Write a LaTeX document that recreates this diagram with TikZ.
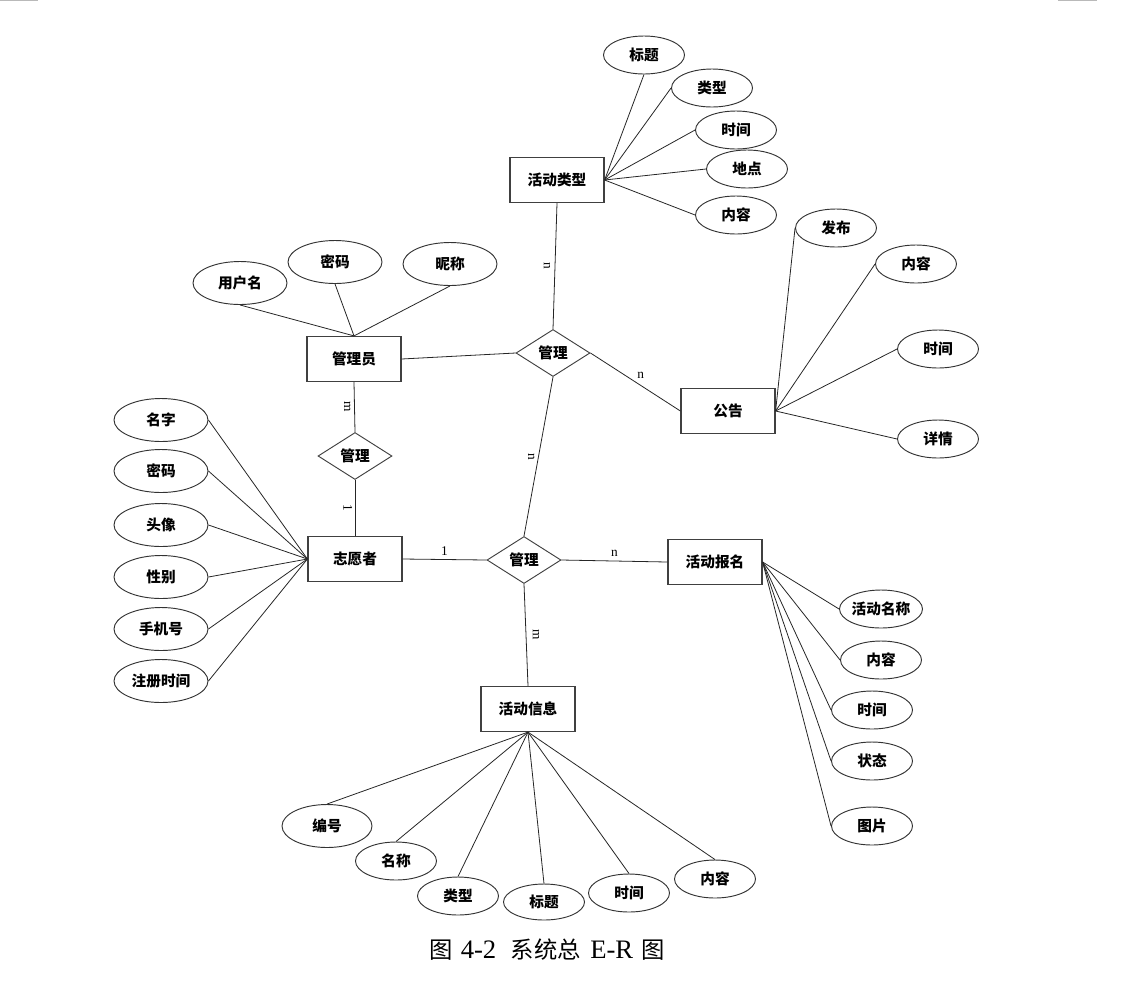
\documentclass[tikz,border=0pt]{standalone}
\usepackage{fontspec}
\setmainfont{Liberation Serif}
\newfontfamily\cjk{Noto Sans CJK SC}
\usetikzlibrary{shapes.geometric}

\begin{document}
\begin{tikzpicture}[x=0.75pt, y=-0.75pt,
      entity/.style={rectangle, draw=black!75, line width=0.9pt,
          minimum width=70.5pt, minimum height=33.75pt, inner sep=0pt,
          font=\cjk\bfseries\fontsize{11}{13}\selectfont},
      rel/.style={diamond, draw=black!75, line width=0.7pt,
          minimum width=55.5pt, minimum height=35.25pt, inner sep=0pt,
          font=\cjk\bfseries\fontsize{11}{13}\selectfont},
      attr/.style={ellipse, draw=black!80, line width=0.7pt,
          minimum width=60.75pt, minimum height=28.5pt, inner sep=0pt,
          font=\cjk\bfseries\fontsize{11}{13}\selectfont},
      wattr/.style={attr, minimum width=70.5pt, minimum height=32.25pt},
      link/.style={draw=black!85, line width=0.6pt},
      card/.style={font=\fontsize{10}{11}\selectfont, inner sep=0pt}]
    \useasboundingbox (0,0) rectangle (1123,986);
    \draw[gray!55, line width=1.5pt] (0,0) -- (38,0) (1058,0) -- (1097,0);

    % entities
    \node[entity] (tp)   at (557,180) {活动类型};
    \node[entity] (adm)  at (354,359) {管理员};
    \node[entity] (ann)  at (728,411) {公告};
    \node[entity] (vol)  at (355,559) {志愿者};
    \node[entity] (reg)  at (715,562) {活动报名};
    \node[entity] (info) at (528,709) {活动信息};

    % relations
    \node[rel] (mg1) at (553,353) {管理};
    \node[rel] (mg2) at (355,456) {管理};
    \node[rel] (mg3) at (524,560) {管理};

    % attributes
    \node[attr] (tp1) at (644,55)  {标题};
    \node[attr] (tp2) at (712,88)  {类型};
    \node[attr] (tp3) at (736,130) {时间};
    \node[attr] (tp4) at (747,169) {地点};
    \node[attr] (tp5) at (736,215) {内容};

    \node[wattr] (adm1) at (240,283) {用户名};
    \node[wattr] (adm2) at (335,262) {密码};
    \node[wattr] (adm3) at (450,264) {昵称};

    \node[attr] (ann1) at (836,228) {发布};
    \node[attr] (ann2) at (916,264) {内容};
    \node[attr] (ann3) at (938,349) {时间};
    \node[attr] (ann4) at (938,439) {详情};

    \node[wattr] (vol1) at (161,420) {名字};
    \node[wattr] (vol2) at (161,471) {密码};
    \node[wattr] (vol3) at (161,525) {头像};
    \node[wattr] (vol4) at (161,577) {性别};
    \node[wattr] (vol5) at (161,629) {手机号};
    \node[wattr] (vol6) at (161,681) {注册时间};

    \node[attr] (reg1) at (881,609) {活动名称};
    \node[attr] (reg2) at (881,660) {内容};
    \node[attr] (reg3) at (872,710) {时间};
    \node[attr] (reg4) at (872,761) {状态};
    \node[attr] (reg5) at (872,826) {图片};

    \node[wattr, minimum width=67.5pt] (info1) at (327,826) {编号};
    \node[attr] (info2) at (396,861) {名称};
    \node[attr] (info3) at (458,896) {类型};
    \node[attr, minimum height=27pt] (info4) at (544,902) {标题};
    \node[attr] (info5) at (629,893) {时间};
    \node[attr] (info6) at (715,879) {内容};

    % relation lines
    \draw[link] (adm.east) -- (mg1.west);
    \draw[link] (tp.south) -- (mg1.north)
        node[card, pos=.5, xshift=-6pt, rotate=-90] {n};
    \draw[link] (mg1.east) -- (ann.west)
        node[card, pos=.5, xshift=4pt, yshift=5pt] {n};
    \draw[link] (mg1.south) -- (mg3.north)
        node[card, pos=.5, xshift=-5.5pt, rotate=-90] {n};
    \draw[link] (adm.south) -- (mg2.north)
        node[card, pos=.5, xshift=-5.5pt, rotate=-90] {m};
    \draw[link] (mg2.south) -- (vol.north)
        node[card, pos=.5, xshift=-5.5pt, rotate=-90] {1};
    \draw[link] (vol.east) -- (mg3.west)
        node[card, pos=.5, yshift=6pt] {1};
    \draw[link] (mg3.east) -- (reg.west)
        node[card, pos=.5, yshift=6pt] {n};
    \draw[link] (mg3.south) -- (info.north)
        node[card, pos=.5, xshift=7.5pt, rotate=-90] {m};

    % attribute lines
    \draw[link] (tp.east) -- (tp1.south);
    \draw[link] (tp.east) -- (tp2.west);
    \draw[link] (tp.east) -- (tp3.west);
    \draw[link] (tp.east) -- (tp4.west);
    \draw[link] (tp.east) -- (tp5.west);

    \draw[link] (adm.north) -- (adm1.south);
    \draw[link] (adm.north) -- (adm2.south);
    \draw[link] (adm.north) -- (adm3.south);

    \draw[link] (ann.east) -- (ann1.west);
    \draw[link] (ann.east) -- (ann2.west);
    \draw[link] (ann.east) -- (ann3.west);
    \draw[link] (ann.east) -- (ann4.west);

    \draw[link] (vol.west) -- (vol1.east);
    \draw[link] (vol.west) -- (vol2.east);
    \draw[link] (vol.west) -- (vol3.east);
    \draw[link] (vol.west) -- (vol4.east);
    \draw[link] (vol.west) -- (vol5.east);
    \draw[link] (vol.west) -- (vol6.east);

    \draw[link] (reg.east) -- (reg1.west);
    \draw[link] (reg.east) -- (reg2.west);
    \draw[link] (reg.east) -- (reg3.west);
    \draw[link] (reg.east) -- (reg4.west);
    \draw[link] (reg.east) -- (reg5.west);

    \draw[link] (info.south) -- (info1.north);
    \draw[link] (info.south) -- (info2.north);
    \draw[link] (info.south) -- (info3.north);
    \draw[link] (info.south) -- (info4.north);
    \draw[link] (info.south) -- (info5.north);
    \draw[link] (info.south) -- (info6.north);

    % caption
    \node[font=\fontsize{20}{22}\selectfont, inner sep=0pt] (cap) at (547,950)
        {{\cjk\fontsize{17.5}{20}\selectfont 图}\hspace{6pt}4-2\hspace{11pt}{\cjk\fontsize{17.5}{20}\selectfont 系统总}\hspace{7pt}E-R\hspace{6pt}{\cjk\fontsize{17.5}{20}\selectfont 图}};
  \end{tikzpicture}
\end{document}
